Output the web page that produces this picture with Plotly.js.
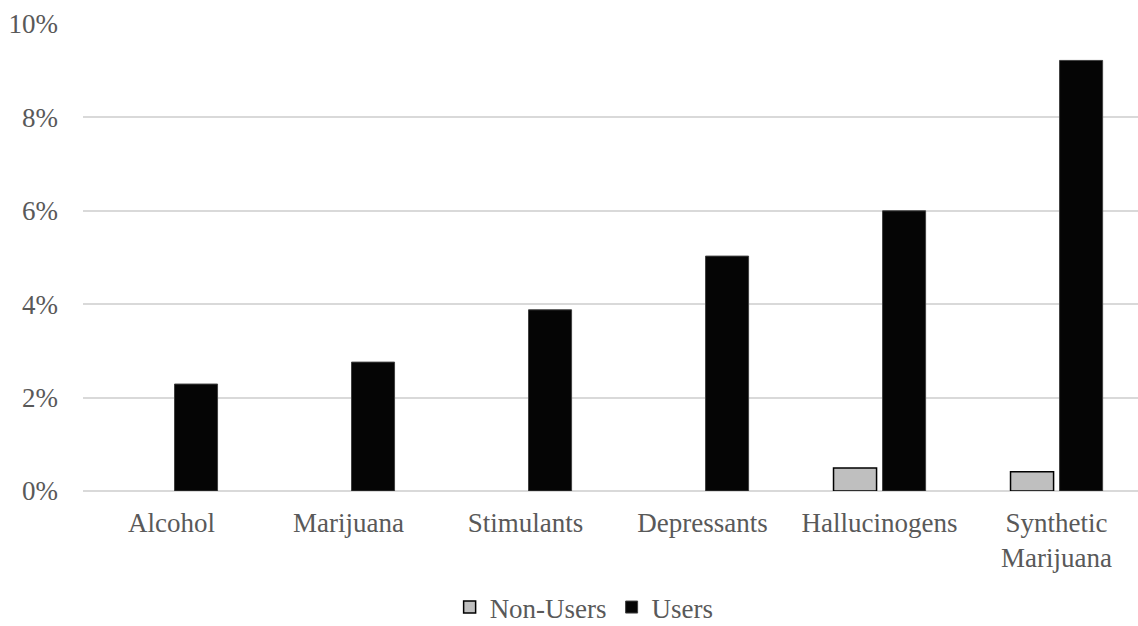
<!DOCTYPE html>
<html>
<head>
<meta charset="utf-8">
<script src="https://cdn.plot.ly/plotly-3.0.1.min.js"></script>
<style>html,body{margin:0;padding:0;background:#fff;}#chart{width:1138px;height:626px;}</style>
</head>
<body>
<div id="chart"></div>
<script>
var categories = ["Alcohol", "Marijuana", "Stimulants", "Depressants", "Hallucinogens", "Synthetic<br>Marijuana"];
var nonUsers = [null, null, null, null, 0.49, 0.41];
var users = [2.29, 2.76, 3.88, 5.03, 6.0, 9.22];
var yTickVals = [0, 2, 4, 6, 8, 10];
var yTickText = ["0%", "2%", "4%", "6%", "8%", "10%"];

var font = {family: "Liberation Serif", size: 27, color: "#595959"};

var traces = [
  {type: "bar", name: "Non-Users", x: [0,1,2,3,4,5], y: nonUsers,
   marker: {color: "#bfbfbf", line: {color: "#000000", width: 1.5}}},
  {type: "bar", name: "Users", x: [0,1,2,3,4,5], y: users,
   marker: {color: "#050505", line: {color: "#404040", width: 1}}}
];

var layout = {
  width: 1138, height: 626,
  margin: {l: 83, r: 0, t: 24, b: 135, pad: 0, autoexpand: false},
  paper_bgcolor: "#ffffff", plot_bgcolor: "#ffffff",
  font: font,
  barmode: "group",
  bargap: 0.446,
  bargroupgap: 0.122,
  showlegend: true,
  legend: {orientation: "h", x: 0.475, xanchor: "center", y: -0.197, yanchor: "top",
           yref: "paper", font: font, traceorder: "normal"},
  xaxis: {
    tickmode: "array", tickvals: [0,1,2,3,4,5], ticktext: categories,
    range: [-0.5, 5.46], showgrid: false, zeroline: false, showline: false, automargin: false,
    ticks: "", tickfont: font, ticklabelstandoff: 13, fixedrange: true
  },
  yaxis: {
    range: [0, 10], tickmode: "array", tickvals: yTickVals, ticktext: yTickText,
    showgrid: true, gridcolor: "#d9d9d9", gridwidth: 2, automargin: false,
    zeroline: true, zerolinecolor: "#d9d9d9", zerolinewidth: 2,
    showline: false, ticks: "", tickfont: font, ticklabelstandoff: 24, fixedrange: true
  }
};

Plotly.newPlot("chart", traces, layout, {displayModeBar: false, staticPlot: true});
</script>
</body>
</html>
